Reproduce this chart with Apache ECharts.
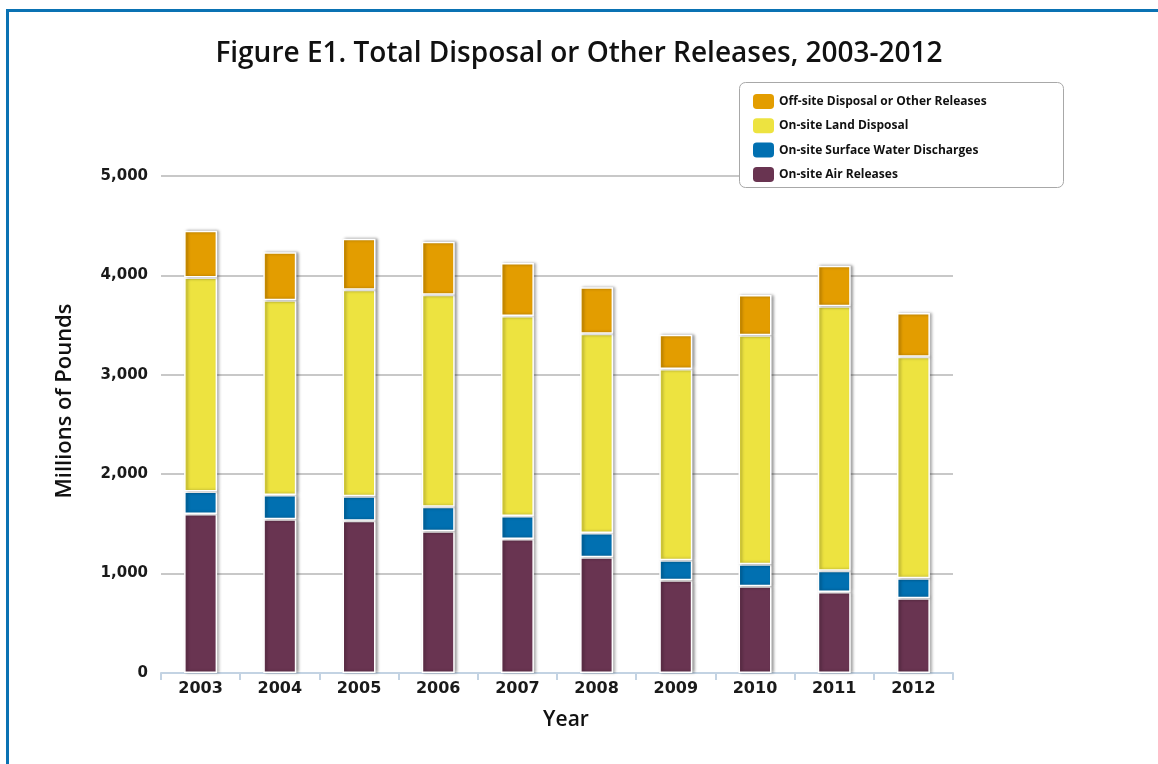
<!DOCTYPE html>
<html>
<head>
<meta charset="utf-8">
<script src="https://cdn.jsdelivr.net/npm/echarts@6/dist/echarts.min.js"></script>
<style>
html,body{margin:0;padding:0;background:#fff;}
#chart{width:1158px;height:764px;}
</style>
</head>
<body>
<div id="chart"></div>
<script>
const years = ['2003','2004','2005','2006','2007','2008','2009','2010','2011','2012'];
const airReleases = [1600, 1546, 1532, 1426, 1348, 1164, 933, 872, 815, 752];
const surfaceWater = [227, 245, 246, 247, 231, 244, 201, 222, 214, 201];
const landDisposal = [2153, 1959, 2078, 2133, 2013, 2006, 1924, 2303, 2660, 2229];
const offSite = [470, 482, 513, 533, 533, 466, 345, 406, 409, 440];
const yTicks = [0, 1000, 2000, 3000, 4000, 5000];

const chart = echarts.init(document.getElementById('chart'), null, {renderer: 'canvas'});
const barStyle = (c) => ({
  color: c,
  borderColor: '#ffffff',
  borderWidth: 1.5,
  shadowColor: 'rgba(0,0,0,0.35)',
  shadowBlur: 3,
  shadowOffsetX: 2,
  shadowOffsetY: 0
});
const mk = (name, data, color) => ({
  name: name, type: 'bar', stack: 'total', data: data,
  barWidth: 33, itemStyle: barStyle(color), emphasis: {disabled: true}
});

chart.setOption({
  animation: false,
  backgroundColor: '#ffffff',
  title: {
    text: 'Figure E1. Total Disposal or Other Releases, 2003-2012',
    left: 'center', top: 35,
    textStyle: {fontFamily: 'Open Sans', fontSize: 28, fontWeight: 600, color: '#111'}
  },
  graphic: [
    {type: 'rect', shape: {x: 6, y: 9, width: 1152, height: 3}, style: {fill: '#0a72b3'}, silent: true},
    {type: 'rect', shape: {x: 6, y: 9, width: 3, height: 755}, style: {fill: '#0a72b3'}, silent: true},
    {type: 'rect', shape: {x: 739.5, y: 82.5, width: 324, height: 105, r: 6}, style: {fill: '#ffffff', stroke: '#a8a8a8', lineWidth: 1}, z: 5, silent: true},
    {type: 'text', x: 65, y: 401, rotation: Math.PI / 2, silent: true,
      style: {text: 'Millions of Pounds', fontFamily: 'Open Sans', fontSize: 22, fontWeight: 600, fill: '#111', align: 'center', verticalAlign: 'middle'}},
    {type: 'text', x: 566, y: 720, silent: true,
      style: {text: 'Year', fontFamily: 'Open Sans', fontSize: 21, fontWeight: 600, fill: '#111', align: 'center', verticalAlign: 'middle'}}
  ],
  legend: {
    orient: 'vertical',
    left: 748, top: 89,
    itemWidth: 21, itemHeight: 15, itemGap: 9.3,
    icon: 'roundRect',
    z: 10,
    data: ['Off-site Disposal or Other Releases', 'On-site Land Disposal', 'On-site Surface Water Discharges', 'On-site Air Releases'],
    itemStyle: {borderWidth: 0, shadowBlur: 0},
    textStyle: {fontFamily: 'Open Sans', fontSize: 12, fontWeight: 'bold', color: '#111'}
  },
  grid: {left: 161, right: 205, top: 176, bottom: 91, containLabel: false},
  xAxis: {
    type: 'category',
    data: years,
    axisLine: {show: true, lineStyle: {color: '#c3d3e3', width: 2}},
    axisTick: {show: true, alignWithLabel: false, length: 7, lineStyle: {color: '#c3d3e3', width: 2}},
    axisLabel: {fontFamily: 'DejaVu Sans', fontSize: 16, fontWeight: 'bold', color: '#1a1a1a', margin: 8}
  },
  yAxis: {
    type: 'value',
    min: 0, max: 5000, interval: 1000,
    axisLine: {show: false},
    axisTick: {show: false},
    splitLine: {show: true, lineStyle: {color: '#c8c8c8', width: 2}},
    axisLabel: {
      fontFamily: 'DejaVu Sans', fontSize: 15, fontWeight: 'bold', color: '#1a1a1a', margin: 13,
      formatter: (v) => yTicks.includes(v) ? v.toLocaleString('en-US') : ''
    }
  },
  series: [
    mk('On-site Air Releases', airReleases, '#693451'),
    mk('On-site Surface Water Discharges', surfaceWater, '#0170b1'),
    mk('On-site Land Disposal', landDisposal, '#ede340'),
    mk('Off-site Disposal or Other Releases', offSite, '#e39d00')
  ]
});
</script>
</body>
</html>
